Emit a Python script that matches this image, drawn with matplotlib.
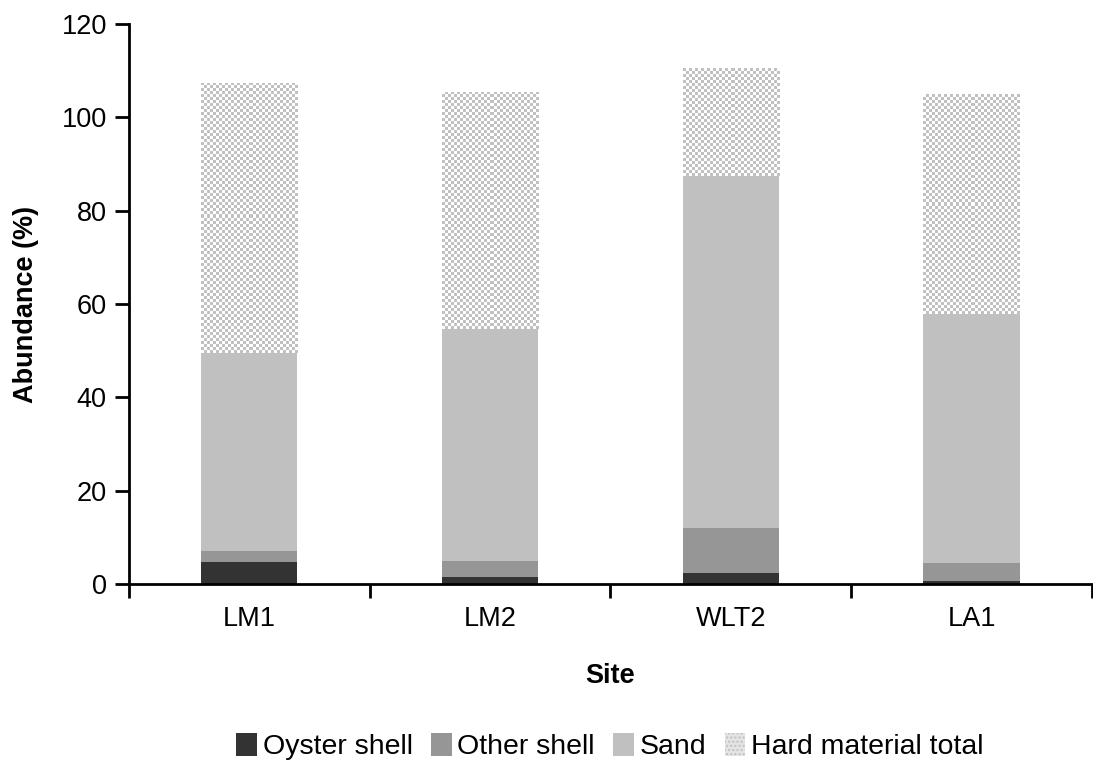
import matplotlib
matplotlib.use("Agg")
import matplotlib.pyplot as plt
from matplotlib.patches import Patch
import numpy as np

plt.rcParams['font.family'] = ['Liberation Sans', 'DejaVu Sans']

sites = ['LM1', 'LM2', 'WLT2', 'LA1']
oyster = [4.7, 1.5, 2.4, 0.6]
other_shell = [2.4, 3.4, 9.6, 3.9]
sand = [42.3, 49.7, 75.4, 53.3]
hard_total = [57.9, 50.8, 23.1, 47.1]

fig = plt.figure(figsize=(10.93, 7.66), dpi=100)
ax = fig.add_axes([0.118, 0.2376, 0.881, 0.7311])

x = np.arange(len(sites))
w = 0.4
b1 = np.array(oyster)
b2 = b1 + np.array(other_shell)
b3 = b2 + np.array(sand)

ax.set_xlim(-0.5, len(sites) - 0.5)
ax.set_ylim(0, 120)

ax.bar(x, oyster, w, color='#333333', zorder=2)
ax.bar(x, other_shell, w, bottom=b1, color='#969696', zorder=2)
ax.bar(x, sand, w, bottom=b2, color='#c0c0c0', zorder=2)
hard_bars = ax.bar(x, hard_total, w, bottom=b3, color='white', zorder=2)

# checkerboard fill for the hard material segment, ~3 px cells
cell = 3.0
for bar in hard_bars:
    x0, y0 = bar.get_x(), bar.get_y()
    x1, y1 = x0 + bar.get_width(), y0 + bar.get_height()
    (px0, py0), (px1, py1) = ax.transData.transform([(x0, y0), (x1, y1)])
    ncol = max(1, int(round((px1 - px0) / cell)))
    nrow = max(1, int(round((py1 - py0) / cell)))
    cells = np.indices((nrow, ncol)).sum(axis=0) % 2
    checker = np.where(cells[..., None] == 1, [0.76, 0.76, 0.76], [1.0, 1.0, 1.0])
    im = ax.imshow(checker, extent=[x0, x1, y0, y1], origin='lower',
                   interpolation='nearest', aspect='auto', zorder=3)
    im.set_clip_path(bar)

ax.set_xlim(-0.5, len(sites) - 0.5)
ax.set_ylim(0, 120)
ax.set_yticks(np.arange(0, 121, 20))

# boundary ticks between sites, labels at the bar centres
ax.set_xticks(np.arange(-0.5, len(sites), 1.0))
ax.set_xticklabels([])
ax.set_xticks(x, minor=True)
ax.set_xticklabels(sites, minor=True)
ax.tick_params(axis='x', which='minor', length=0, pad=16, labelsize=19.5)
ax.tick_params(axis='x', which='major', length=10, width=2, direction='out')
ax.tick_params(axis='y', length=10, width=2, direction='out', pad=6, labelsize=19.5)

for s in ['top', 'right']:
    ax.spines[s].set_visible(False)
for s in ['left', 'bottom']:
    ax.spines[s].set_linewidth(2)
    ax.spines[s].set_zorder(4)

ax.set_xlabel('Site', fontsize=19.5, fontweight='bold', labelpad=22)
ax.set_ylabel('Abundance (%)', fontsize=19.5, fontweight='bold', labelpad=16)

handles = [
    Patch(facecolor='#333333'),
    Patch(facecolor='#969696'),
    Patch(facecolor='#c0c0c0'),
    Patch(facecolor='#e4e4e4', edgecolor='#c0c0c0', hatch='....', linewidth=0),
]
labels = ['Oyster shell', 'Other shell', 'Sand', 'Hard material total']
fig.legend(handles, labels, loc='center', bbox_to_anchor=(0.558, 0.025), ncol=4,
           frameon=False, fontsize=20.5, handlelength=0.72, handleheight=0.85,
           handletextpad=0.2, columnspacing=0.65, borderaxespad=0)

fig.savefig('out.png', dpi=100)
